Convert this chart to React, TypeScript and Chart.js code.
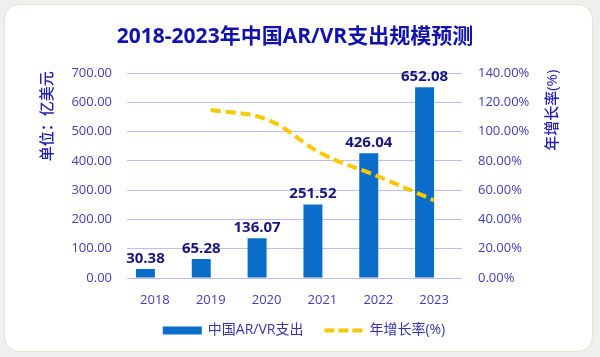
import React, { useEffect, useRef } from 'react';
import { Chart, registerables } from 'chart.js';

Chart.register(...registerables);

const titleText = '2018-2023年中国AR/VR支出规模预测';
const years = ['2018', '2019', '2020', '2021', '2022', '2023'];
const spending = [30.38, 65.28, 136.07, 251.52, 426.04, 652.08];
const growthRate = [null, 114.9, 108.4, 84.8, 69.4, 53.1];
const spendingLabel = '中国AR/VR支出';
const growthLabel = '年增长率(%)';
const leftAxisTitle = '单位：亿美元';
const rightAxisTitle = '年增长率(%)';

const FONT = "'Open Sans', 'Noto Sans CJK SC', sans-serif";
const BAR_COLOR = '#0a6dca';
const LINE_COLOR = '#f8c800';
const TICK_COLOR = '#4040b4';
const GRID_COLOR = '#bdbdf2';

const decorPlugin = {
  id: 'decor',
  afterDatasetsDraw(chart: any) {
    const ctx = chart.ctx as CanvasRenderingContext2D;
    const area = chart.chartArea;
    ctx.save();
    // data labels
    const meta = chart.getDatasetMeta(0);
    ctx.font = `bold 15px ${FONT}`;
    ctx.fillStyle = '#16167c';
    ctx.textAlign = 'center';
    ctx.textBaseline = 'alphabetic';
    meta.data.forEach((el: any, i: number) => {
      ctx.fillText(spending[i].toFixed(2), el.x, el.y - 6);
    });

    // axis titles
    ctx.font = `500 15px ${FONT}`;
    ctx.fillStyle = '#2020ac';
    ctx.textBaseline = 'middle';
    ctx.textAlign = 'center';
    ctx.save();
    ctx.translate(area.left - 79, area.top + 43);
    ctx.rotate(-Math.PI / 2);
    ctx.fillText(leftAxisTitle, 0, 0);
    ctx.restore();
    ctx.save();
    ctx.translate(area.right + 91, area.top + 37);
    ctx.rotate(-Math.PI / 2);
    ctx.fillText(rightAxisTitle, 0, 0);
    ctx.restore();

    // legend
    ctx.font = `14px ${FONT}`;
    ctx.textAlign = 'left';
    ctx.textBaseline = 'middle';
    const sw = 39;
    const gap = 6;
    const itemGap = 21;
    const w1 = ctx.measureText(spendingLabel).width;
    const w2 = ctx.measureText(growthLabel).width;
    const total = sw + gap + w1 + itemGap + sw + gap + w2;
    let x = 304 - total / 2;
    const y = area.bottom + 52.5;
    ctx.fillStyle = BAR_COLOR;
    ctx.fillRect(x, y - 4, sw, 8);
    x += sw + gap;
    ctx.fillStyle = '#3434ae';
    ctx.fillText(spendingLabel, x, y);
    x += w1 + itemGap;
    ctx.strokeStyle = LINE_COLOR;
    ctx.lineWidth = 4;
    ctx.setLineDash([10, 4]);
    ctx.beginPath();
    ctx.moveTo(x, y);
    ctx.lineTo(x + sw, y);
    ctx.stroke();
    ctx.setLineDash([]);
    x += sw + gap;
    ctx.fillText(growthLabel, x, y);
    ctx.restore();
  },
};

export default function App() {
  const canvasRef = useRef<HTMLCanvasElement | null>(null);

  useEffect(() => {
    if (!canvasRef.current) return;
    const chart = new Chart(canvasRef.current, {
      type: 'bar',
      data: {
        labels: years,
        datasets: [
          {
            type: 'bar',
            label: spendingLabel,
            data: spending,
            backgroundColor: BAR_COLOR,
            yAxisID: 'y',
            order: 2,
          },
          {
            type: 'bar',
            label: '',
            data: years.map(() => null),
            backgroundColor: 'rgba(0,0,0,0)',
            yAxisID: 'y',
            order: 3,
          },
          {
            type: 'line',
            label: growthLabel,
            data: growthRate,
            borderColor: LINE_COLOR,
            borderWidth: 4,
            borderDash: [10, 5],
            pointRadius: 0,
            tension: 0.4,
            fill: false,
            yAxisID: 'y1',
            order: 1,
          },
        ] as any,
      },
      options: {
        responsive: false,
        animation: false,
        devicePixelRatio: 1,
        datasets: {
          bar: { categoryPercentage: 0.68, barPercentage: 1.0 },
        },
        layout: { padding: { top: 0, left: 60, right: 70, bottom: 49 } },
        plugins: {
          legend: { display: false },
          tooltip: { enabled: false },
          title: {
            display: true,
            text: titleText,
            color: '#1212ae',
            font: { family: FONT, size: 21, weight: 'bold' },
            padding: { top: 24, bottom: 24 },
          },
        },
        scales: {
          x: {
            grid: { display: false },
            border: { display: false },
            ticks: {
              color: TICK_COLOR,
              font: { family: FONT, size: 13 },
              padding: 6,
            },
            afterFit(scale: any) {
              scale.height = 30;
            },
          },
          y: {
            position: 'left',
            min: 0,
            max: 700,
            grid: { color: GRID_COLOR, lineWidth: 1, drawTicks: false },
            border: { display: false },
            ticks: {
              stepSize: 100,
              color: TICK_COLOR,
              font: { family: FONT, size: 13 },
              padding: 15,
              callback: (v: any) => Number(v).toFixed(2),
            },
            afterFit(scale: any) {
              scale.width = 67;
            },
          },
          y1: {
            position: 'right',
            min: 0,
            max: 140,
            grid: { display: false, drawTicks: false },
            border: { display: false },
            ticks: {
              stepSize: 20,
              color: TICK_COLOR,
              font: { family: FONT, size: 13 },
              padding: 16,
              callback: (v: any) => Number(v).toFixed(2) + '%',
            },
            afterFit(scale: any) {
              scale.width = 68;
            },
          },
        },
      } as any,
      plugins: [decorPlugin],
    });
    return () => chart.destroy();
  }, []);

  return (
    <div style={{ position: 'fixed', left: 0, top: 0, width: 600, height: 357, background: '#efefef', overflow: 'hidden' }}>
      <div
        style={{
          position: 'absolute',
          left: 4,
          top: 4,
          width: 587,
          height: 346,
          background: '#ffffff',
          border: '1px solid #dde8cc',
          borderRadius: 15,
        }}
      />
      <canvas ref={canvasRef} width={600} height={357} style={{ position: 'absolute', left: 0, top: 0, width: 600, height: 357 }} />
    </div>
  );
}
